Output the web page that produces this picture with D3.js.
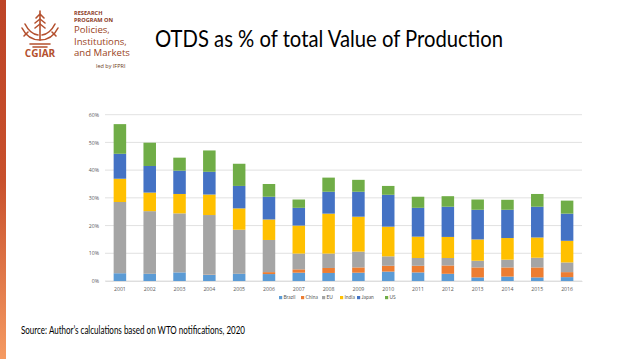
<!DOCTYPE html>
<html><head><meta charset="utf-8">
<script src="https://cdn.jsdelivr.net/npm/d3@7"></script>
<style>html,body{margin:0;padding:0;background:#fff;overflow:hidden}svg{display:block}</style>
</head><body><svg id="c" width="638" height="359"></svg>
<script>
const years = ["2001","2002","2003","2004","2005","2006","2007","2008","2009","2010","2011","2012","2013","2014","2015","2016"];
const seriesNames = ["Brazil","China","EU","India","Japan","US"];
const brazil = [2.8,2.6,3.1,2.2,2.6,2.5,3.0,2.9,3.0,3.4,3.1,2.6,1.3,1.6,1.3,1.4];
const china  = [0.0,0.0,0.0,0.1,0.0,0.7,1.2,1.8,1.9,2.1,2.4,3.0,3.6,3.3,3.6,1.8];
const eu     = [25.7,22.6,21.3,21.5,15.9,11.6,5.7,5.2,5.7,3.4,2.8,2.7,2.4,2.8,3.5,3.5];
const india  = [8.4,6.7,7.0,7.4,7.7,7.4,10.1,14.4,12.6,10.7,7.7,7.6,7.7,7.8,7.3,7.8];
const japan  = [9.0,9.6,8.4,8.2,8.1,8.2,6.4,7.9,9.0,11.5,10.4,10.9,10.7,10.2,11.1,9.8];
const us     = [10.7,8.4,4.7,7.7,8.0,4.6,3.0,5.1,4.3,3.2,4.0,3.8,3.7,3.6,4.6,4.7];
const yTicks = [0,10,20,30,40,50,60];
const colors = ["#5B9BD5","#ED7D31","#A5A5A5","#FFC000","#4472C4","#70AD47"];

const all = [brazil,china,eu,india,japan,us];
const rows = years.map((y,i)=>{const o={year:y};seriesNames.forEach((s,k)=>o[s]=all[k][i]);return o;});
const svg = d3.select("#c");

// left gradient bar
const defs = svg.append("defs");
const g = defs.append("linearGradient").attr("id","lg").attr("x1",0).attr("y1",0).attr("x2",0).attr("y2",1);
g.append("stop").attr("offset","0%").attr("stop-color","#BD4427");
g.append("stop").attr("offset","50%").attr("stop-color","#C8502C");
g.append("stop").attr("offset","100%").attr("stop-color","#F59A62");
svg.append("rect").attr("x",0).attr("y",0).attr("width",6).attr("height",359).attr("fill","url(#lg)");

// logo
const logoC = "#B4502E";
const lg = svg.append("g").attr("fill","none").attr("stroke",logoC).attr("stroke-width",1.6).attr("stroke-linecap","round");
lg.append("path").attr("d","M40,11 L40,40");
lg.append("path").attr("d","M40,14 L36,18 M40,14 L44,18 M40,19 L35,23 M40,19 L45,23 M40,24 L35,28 M40,24 L45,28");
lg.append("path").attr("d","M22,28 Q28,40 40,40 Q52,40 58,28");
lg.append("path").attr("d","M25,24 Q30,34 38,35 M55,24 Q50,34 42,35");
lg.append("path").attr("d","M30,44 L50,44 M33,47 L47,47");
lg.append("path").attr("d","M28,32 L24,36 M52,32 L56,36");
svg.append("text").attr("x",40).attr("y",57).attr("text-anchor","middle").attr("font-family","Open Sans").attr("font-weight","bold").attr("font-size",10).attr("fill",logoC).text("CGIAR");
const lt = svg.append("g").attr("font-family","Open Sans").attr("fill","#8A3A1E");
lt.append("text").attr("x",74).attr("y",14.5).attr("font-size",5.6).attr("font-weight","bold").text("RESEARCH");
lt.append("text").attr("x",74).attr("y",21.5).attr("font-size",5.6).attr("font-weight","bold").text("PROGRAM ON");
lt.append("text").attr("x",74).attr("y",33).attr("font-size",9.6).attr("fill","#9A4423").text("Policies,");
lt.append("text").attr("x",74).attr("y",44.5).attr("font-size",9.6).attr("fill","#9A4423").text("Institutions,");
lt.append("text").attr("x",74).attr("y",56).attr("font-size",9.6).attr("fill","#9A4423").text("and Markets");
lt.append("text").attr("x",96).attr("y",68).attr("font-size",5.5).attr("fill","#6b3a20").text("led by IFPRI");

// title
const title = svg.append("text").attr("x",155).attr("y",47).attr("font-family","Lato").attr("font-size",22.5).attr("fill","#000").text("OTDS as % of total Value of Production");
title.attr("textLength",348).attr("lengthAdjust","spacingAndGlyphs");

// scales
const x = d3.scaleBand().domain(years).range([105,582]).paddingInner(0.58).paddingOuter(0.29);
const y = d3.scaleLinear().domain([0,60]).range([281,114.7]);

// gridlines
svg.append("g").selectAll("line").data(yTicks).join("line")
  .attr("x1",105).attr("x2",582).attr("y1",d=>y(d)).attr("y2",d=>y(d))
  .attr("stroke","#D9D9D9").attr("stroke-width",0.8);

// y axis
const ya = svg.append("g").attr("transform","translate(105,0)")
  .call(d3.axisLeft(y).tickValues(yTicks).tickFormat(d=>d+"%").tickSize(0).tickPadding(6));
ya.select(".domain").remove();
ya.selectAll("text").attr("font-family","Open Sans").attr("font-size",5.2).attr("fill","#595959");

// stacked bars
const stack = d3.stack().keys(seriesNames)(rows);
svg.append("g").selectAll("g").data(stack).join("g")
  .attr("fill",(d,i)=>colors[i])
  .selectAll("rect").data(d=>d).join("rect")
  .attr("x",d=>x(d.data.year)).attr("width",x.bandwidth())
  .attr("y",d=>y(d[1])).attr("height",d=>Math.max(0,y(d[0])-y(d[1])));

// x axis
const xa = svg.append("g").attr("transform","translate(0,281)")
  .call(d3.axisBottom(x).tickSize(0).tickPadding(6));
xa.select(".domain").attr("stroke","#D9D9D9").attr("stroke-width",0.8);
xa.selectAll("text").attr("font-family","Open Sans").attr("font-size",5.2).attr("fill","#595959");

// legend
const legX = [279,301,322,340,357,385];
const leg = svg.append("g").selectAll("g").data(seriesNames).join("g")
  .attr("transform",(d,i)=>`translate(${legX[i]},298)`);
leg.append("rect").attr("x",0).attr("y",-2).attr("width",3.2).attr("height",3.2).attr("fill",(d,i)=>colors[i]);
leg.append("text").attr("x",4.5).attr("y",1.4).attr("font-family","Lato").attr("font-size",4.9).attr("fill","#595959").text(d=>d);

// source
svg.append("text").attr("x",21).attr("y",334).attr("font-family","Lato").attr("font-size",10.5).attr("fill","#000")
  .attr("textLength",224).attr("lengthAdjust","spacingAndGlyphs")
  .text("Source: Author\u2019s calculations based on WTO notifications, 2020");
</script></body></html>
